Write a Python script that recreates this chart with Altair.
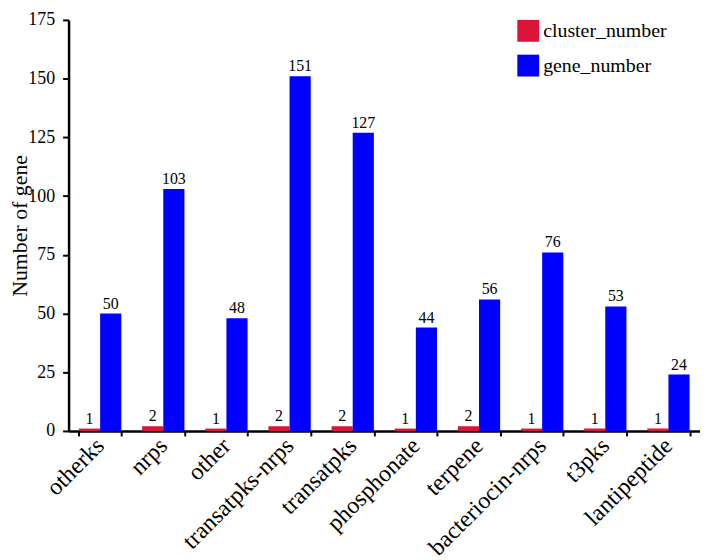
import altair as alt
import pandas as pd

categories = ["otherks", "nrps", "other", "transatpks-nrps", "transatpks",
              "phosphonate", "terpene", "bacteriocin-nrps", "t3pks", "lantipeptide"]
cluster_number = [1, 2, 1, 2, 2, 1, 2, 1, 1, 1]
gene_number = [50, 103, 48, 151, 127, 44, 56, 76, 53, 24]
series = ["cluster_number", "gene_number"]
colors = ["#DC143C", "#0000FF"]
y_ticks = [0, 25, 50, 75, 100, 125, 150, 175]

rows = []
for c, a, b in zip(categories, cluster_number, gene_number):
    rows.append({"category": c, "series": "cluster_number", "value": a})
    rows.append({"category": c, "series": "gene_number", "value": b})
df = pd.DataFrame(rows)

FONT = "Liberation Serif"

x = alt.X("category:N", sort=categories,
          scale=alt.Scale(paddingInner=0.33, paddingOuter=0.165),
          axis=alt.Axis(title=None, labelAngle=-45, labelFontSize=24,
                        labelAlign="right", labelBaseline="middle",
                        labelFont=FONT, labelColor="black", tickBand="extent",
                        domainColor="black", domainWidth=2.5, tickColor="black",
                        tickWidth=2, tickSize=5, labelPadding=6))
xo = alt.XOffset("series:N", sort=series,
                 scale=alt.Scale(paddingInner=0, paddingOuter=0))
y = alt.Y("value:Q", scale=alt.Scale(domain=[0, 175], nice=False),
          axis=alt.Axis(title="Number of gene", values=y_ticks, grid=False,
                        labelFontSize=18, labelFont=FONT, labelColor="black",
                        titleFont=FONT, titleFontSize=22, titleFontWeight="normal",
                        titleColor="black", titleX=-42, titleY=207,
                        titleBaseline="alphabetic", titleAlign="center",
                        domainColor="black", domainWidth=2.5, tickColor="black",
                        tickWidth=2, tickSize=6, labelPadding=8))

base = alt.Chart(df)

bars = base.mark_bar().encode(
    x=x, xOffset=xo, y=y,
    color=alt.Color("series:N", sort=series,
                    scale=alt.Scale(domain=series, range=colors),
                    legend=alt.Legend(title=None, orient="none", legendX=452, legendY=0,
                                      symbolType="square", symbolSize=484,
                                      symbolStrokeWidth=0, labelFont=FONT,
                                      labelFontSize=20, labelColor="black",
                                      rowPadding=13, labelOffset=4, padding=0))
)

labels = base.mark_text(baseline="bottom", dy=-2, font=FONT, fontSize=16,
                        color="black").encode(
    x=x, xOffset=xo, y=y, text=alt.Text("value:Q")
)

chart = alt.layer(bars, labels).properties(
    width=636, height=414,
    padding={"left": 61, "top": 10, "right": 0, "bottom": 128},
    autosize=alt.AutoSizeParams(type="none"),
).configure(font=FONT).configure_axis(
    labelFont=FONT, titleFont=FONT
).configure_legend(labelFont=FONT).configure_view(stroke=None)

chart.save("out.html", embed_options={"renderer": "svg", "actions": False})
